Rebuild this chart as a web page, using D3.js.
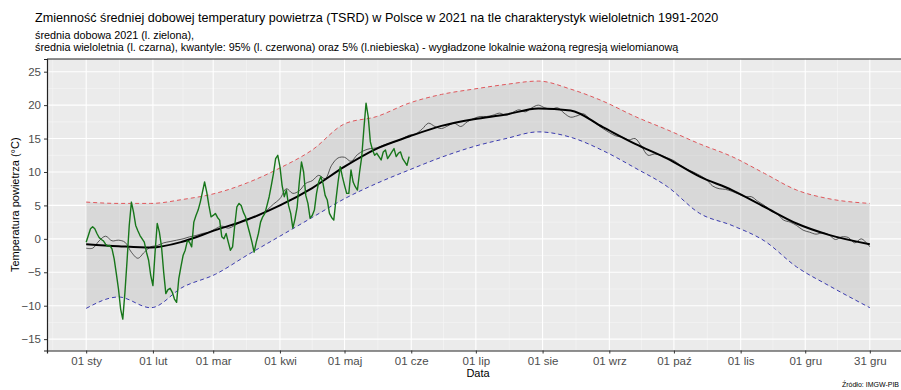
<!DOCTYPE html>
<html>
<head>
<meta charset="utf-8">
<script src="https://cdn.jsdelivr.net/npm/d3@7"></script>
<style>
  body { margin: 0; background: #fff; }
  svg { display: block; font-family: "Liberation Sans", Arial, sans-serif; }
</style>
</head>
<body>
<svg id="chart" width="901" height="390"></svg>
<script>
// --- data (day of year 2021, 0 = 01 sty) ---
var smoothDays = [0, 15, 30, 45, 60, 75, 90, 105, 120, 135, 150, 165, 180, 195, 210, 225, 240, 255, 270, 285, 300, 315, 330, 345, 364];
var q95 = [5.5, 5.3, 5.3, 5.9, 6.8, 8.4, 10.6, 13.3, 17.2, 18.3, 20.3, 21.6, 22.4, 23.1, 23.6, 22.4, 20.6, 18.3, 16.3, 14.2, 12.3, 9.8, 7.3, 6.0, 5.3];
var q05 = [-10.4, -8.7, -10.3, -7.2, -5.3, -2.4, 0.4, 3.2, 6.0, 8.3, 10.3, 12.2, 13.8, 15.0, 16.0, 15.2, 13.2, 10.6, 7.8, 3.8, 2.0, -0.3, -4.2, -7.0, -10.3];
var meanSmooth = [-0.8, -1.1, -1.3, -0.4, 1.3, 2.9, 5.0, 7.6, 10.8, 13.5, 15.3, 16.9, 17.9, 18.6, 19.5, 19.2, 16.7, 14.2, 12.0, 9.3, 7.3, 4.8, 2.3, 0.6, -0.8];

// long-term daily mean, one value every 3 days (last one = 31 gru)
var rawMean = [
  -1.4, -1.4, -0.3, 0.4, -0.3, -0.2, -0.5, -2.0, -2.9, -2.0, -1.2, -1.0, -0.6, -0.4, -0.2, 0.0,
  0.3, 0.5, 0.8, 1.0, 1.5, 1.9, 1.6, 2.0, 2.6, 3.0, 3.2, 3.6, 4.3, 5.2, 6.0, 7.5,
  6.8, 7.2, 8.3, 8.7, 9.5, 9.0, 11.0, 12.1, 12.2, 11.6, 12.6, 13.2, 13.5, 13.6, 14.0, 14.3,
  14.6, 15.0, 15.5, 15.7, 16.4, 17.3, 16.8, 16.5, 16.9, 17.3, 16.8, 17.5, 18.0, 18.3, 18.3, 18.5,
  18.8, 18.5, 18.9, 19.3, 19.0, 19.6, 20.0, 19.6, 19.4, 19.6, 18.8, 18.2, 18.4, 18.7, 17.9, 17.2,
  16.5, 15.9, 15.4, 15.2, 14.8, 15.0, 13.8, 12.5, 12.7, 12.5, 12.1, 11.7, 11.0, 10.4, 10.0, 9.5,
  8.9, 7.9, 7.5, 7.4, 7.1, 6.7, 6.3, 6.3, 5.6, 5.0, 4.2, 3.7, 2.8, 2.5, 2.0, 1.3,
  1.0, 0.7, 0.9, 0.6, -0.1, 0.3, 0.2, -0.6, 0.0, -0.8, -1.2
];

// daily mean 2021, 01 sty .. 31 maj
var t2021 = [
  -0.5, 0.5, 1.5, 1.8, 1.5, 0.8, 0.2, -0.1, -0.3, -0.8, -1.1, -1.0, -1.5, -3.0, -5.2, -7.5,
  -10.5, -12.0, -8.0, -3.2, 2.0, 5.5, 4.0, 2.0, 1.2, 0.5, 0.0, -0.5, -2.0, -3.2, -5.5, -7.0,
  -2.0, 2.3, 1.0, -1.2, -5.0, -8.2, -7.6, -7.4, -8.0, -9.0, -9.5, -6.0, -4.2, -2.5, -1.7, -0.3,
  -0.5, -1.2, 2.5, 3.5, 4.3, 5.5, 7.0, 8.5, 7.0, 5.0, 3.3, 3.5, 3.8, 3.2, 2.8, 0.3,
  0.0, 0.8, -0.5, -1.7, -1.2, 2.0, 4.8, 5.3, 5.0, 4.0, 3.3, 2.0, 0.8, -0.5, -2.0, -0.5,
  0.8, 2.5, 3.3, 3.8, 5.0, 6.3, 8.0, 9.8, 12.0, 12.5, 10.8, 8.0, 6.3, 7.3, 5.0, 3.8,
  1.6, 3.0, 4.8, 8.5, 11.5, 10.0, 6.5, 5.3, 3.1, 3.5, 4.3, 6.8, 8.5, 9.3, 8.3, 6.5,
  5.8, 3.8, 3.2, 2.8, 5.8, 8.5, 10.8, 9.3, 8.0, 6.8, 6.8, 10.3, 8.5, 7.8, 7.3, 10.0,
  12.3, 16.5, 20.3, 18.3, 14.5, 13.3, 12.5, 12.8, 12.3, 11.8, 13.0, 13.3, 12.0, 12.5, 13.0, 13.5,
  12.3, 12.8, 13.0, 12.0, 11.5, 11.0, 12.3
];

var tickDates = ["2021-01-01", "2021-02-01", "2021-03-01", "2021-04-01", "2021-05-01", "2021-06-01", "2021-07-01",
                 "2021-08-01", "2021-09-01", "2021-10-01", "2021-11-01", "2021-12-01", "2021-12-31"];
var tickLabels = ["01 sty", "01 lut", "01 mar", "01 kwi", "01 maj", "01 cze", "01 lip",
                  "01 sie", "01 wrz", "01 paź", "01 lis", "01 gru", "31 gru"];
var yTicks = [-15, -10, -5, 0, 5, 10, 15, 20, 25];

// --- layout ---
var svg = d3.select("#chart");
var panel = { left: 47, right: 909, top: 59, bottom: 350.5 };
var DAY = 864e5;
var start = Date.UTC(2021, 0, 1);
function dateOf(d) { return new Date(start + d * DAY); }

var x = d3.scaleUtc()
    .domain([dateOf(-18.2), dateOf(382.2)])
    .range([panel.left, panel.right]);
var y = d3.scaleLinear()
    .domain([-16.7, 26.9])
    .range([panel.bottom, panel.top]);

var ticks = tickDates.map(function (s) { return new Date(s + "T00:00:00Z"); });

// panel background
svg.append("rect")
    .attr("x", panel.left).attr("y", panel.top)
    .attr("width", panel.right - panel.left).attr("height", panel.bottom - panel.top)
    .attr("fill", "#ebebeb");

var grid = svg.append("g");
// minor grid
var minorX = [];
for (var i = 0; i < ticks.length - 1; i++) {
    minorX.push(new Date((ticks[i].getTime() + ticks[i + 1].getTime()) / 2));
}
minorX.push(new Date(ticks[0].getTime() - 15.5 * DAY));
grid.selectAll(".mx").data(minorX).enter().append("line")
    .attr("x1", function (d) { return x(d); }).attr("x2", function (d) { return x(d); })
    .attr("y1", panel.top).attr("y2", panel.bottom)
    .attr("stroke", "#f6f6f6").attr("stroke-width", 0.6);
var minorY = yTicks.map(function (v) { return v + 2.5; }).filter(function (v) { return v < 26.9; });
grid.selectAll(".my").data(minorY).enter().append("line")
    .attr("x1", panel.left).attr("x2", panel.right)
    .attr("y1", function (d) { return y(d); }).attr("y2", function (d) { return y(d); })
    .attr("stroke", "#f6f6f6").attr("stroke-width", 0.6);
// major grid
grid.selectAll(".gx").data(ticks).enter().append("line")
    .attr("x1", function (d) { return x(d); }).attr("x2", function (d) { return x(d); })
    .attr("y1", panel.top).attr("y2", panel.bottom)
    .attr("stroke", "#fff").attr("stroke-width", 1.1);
grid.selectAll(".gy").data(yTicks).enter().append("line")
    .attr("x1", panel.left).attr("x2", panel.right)
    .attr("y1", function (d) { return y(d); }).attr("y2", function (d) { return y(d); })
    .attr("stroke", "#fff").attr("stroke-width", 1.1);

// --- series ---
var band = smoothDays.map(function (d, i) {
    return { date: dateOf(d), lo: q05[i], hi: q95[i], mean: meanSmooth[i] };
});
var rawPts = rawMean.map(function (v, i) { return { date: dateOf(Math.min(i * 3, 364)), v: v }; });
var ptsNow = t2021.map(function (v, i) { return { date: dateOf(i), v: v }; });

svg.append("path").datum(band)
    .attr("fill", "#9a9a9a").attr("fill-opacity", 0.24)
    .attr("d", d3.area().curve(d3.curveMonotoneX)
        .x(function (d) { return x(d.date); })
        .y0(function (d) { return y(d.lo); })
        .y1(function (d) { return y(d.hi); }));

function smoothLine(key) {
    return d3.line().curve(d3.curveMonotoneX)
        .x(function (d) { return x(d.date); })
        .y(function (d) { return y(d[key]); });
}
svg.append("path").datum(band)
    .attr("fill", "none").attr("stroke", "#e0575c").attr("stroke-width", 1)
    .attr("stroke-dasharray", "4,3")
    .attr("d", smoothLine("hi"));
svg.append("path").datum(band)
    .attr("fill", "none").attr("stroke", "#3b3bb0").attr("stroke-width", 1)
    .attr("stroke-dasharray", "4,3")
    .attr("d", smoothLine("lo"));

var lineV = d3.line()
    .x(function (d) { return x(d.date); })
    .y(function (d) { return y(d.v); });
svg.append("path").datum(rawPts)
    .attr("fill", "none").attr("stroke", "#333").attr("stroke-width", 0.8)
    .attr("d", lineV.curve(d3.curveCatmullRom));
svg.append("path").datum(band)
    .attr("fill", "none").attr("stroke", "#000").attr("stroke-width", 2)
    .attr("d", smoothLine("mean"));
svg.append("path").datum(ptsNow)
    .attr("fill", "none").attr("stroke", "#17761a").attr("stroke-width", 1.4)
    .attr("stroke-linejoin", "round")
    .attr("d", d3.line().x(function (d) { return x(d.date); }).y(function (d) { return y(d.v); }));

// --- axes ---
var xAxis = d3.axisBottom(x).tickValues(ticks)
    .tickFormat(function (d, i) { return tickLabels[i]; })
    .tickSize(3).tickPadding(3);
var gx = svg.append("g").attr("transform", "translate(0," + panel.bottom + ")").call(xAxis);
gx.select(".domain").attr("stroke", "#222").attr("stroke-width", 1.2);

var yAxis = d3.axisLeft(y).tickValues(yTicks).tickSize(3).tickPadding(3);
var gy = svg.append("g").attr("transform", "translate(" + panel.left + ",0)").call(yAxis);
gy.select(".domain").attr("stroke", "#222").attr("stroke-width", 1.2);

[gx, gy].forEach(function (g) {
    g.selectAll(".tick line").attr("stroke", "#333");
    g.selectAll(".tick text").attr("fill", "#4d4d4d").style("font-size", "11.5px")
        .style("font-family", "'Liberation Sans', Arial, sans-serif");
});

svg.append("line")
    .attr("x1", panel.left).attr("x2", panel.right)
    .attr("y1", panel.top).attr("y2", panel.top)
    .attr("stroke", "#222").attr("stroke-width", 1.2);

// --- texts ---
svg.append("text").attr("x", 35).attr("y", 22)
    .style("font-size", "12.6px").attr("fill", "#000")
    .text("Zmienność średniej dobowej temperatury powietrza (TSRD) w Polsce w 2021 na tle charakterystyk wieloletnich 1991-2020");
svg.append("text").attr("x", 35).attr("y", 39)
    .style("font-size", "10.8px").attr("fill", "#000")
    .text("średnia dobowa 2021 (l. zielona),");
svg.append("text").attr("x", 35).attr("y", 51)
    .style("font-size", "10.8px").attr("fill", "#000")
    .text("średnia wieloletnia (l. czarna), kwantyle: 95% (l. czerwona) oraz 5% (l.niebieska) - wygładzone lokalnie ważoną regresją wielomianową");

svg.append("text")
    .attr("transform", "translate(19," + ((panel.top + panel.bottom) / 2) + ") rotate(-90)")
    .attr("text-anchor", "middle")
    .style("font-size", "11px").attr("fill", "#000")
    .text("Temperatura powietrza (°C)");
svg.append("text")
    .attr("x", (panel.left + panel.right) / 2).attr("y", 377)
    .attr("text-anchor", "middle")
    .style("font-size", "11px").attr("fill", "#000")
    .text("Data");
svg.append("text")
    .attr("x", 899).attr("y", 387)
    .attr("text-anchor", "end")
    .style("font-size", "7px").attr("fill", "#000")
    .text("Źródło: IMGW-PIB");
</script>
</body>
</html>
